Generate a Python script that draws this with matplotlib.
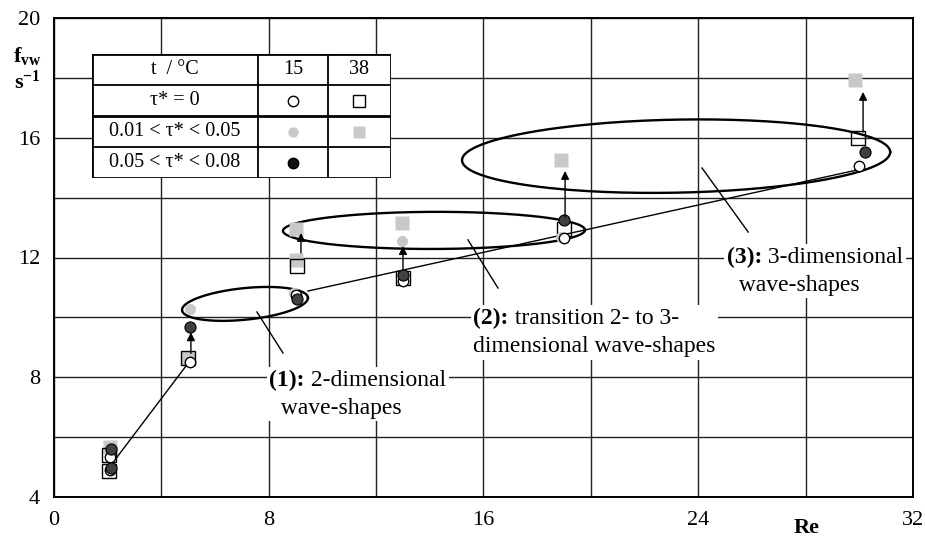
import numpy as np
import matplotlib.pyplot as plt
from matplotlib.patches import Rectangle
from matplotlib.offsetbox import TextArea, HPacker, VPacker, AnnotationBbox

plt.rcParams['font.family'] = ['Liberation Serif', 'DejaVu Serif']
plt.rcParams['mathtext.fontset'] = 'custom'
plt.rcParams['mathtext.rm'] = 'Liberation Serif'
plt.rcParams['mathtext.bf'] = 'Liberation Serif:bold'
plt.rcParams['mathtext.it'] = 'Liberation Serif:italic'

# --- data (Re, f_vw in 1/s) ---
# 15 C, tau* = 0 (open circles)
re_c0 = [2.1, 2.1, 5.05, 9.0, 13.0, 19.0, 30.0]
f_c0 = [4.9, 5.35, 8.5, 10.75, 11.22, 12.65, 15.05]
# 38 C, tau* = 0 (open squares)
re_s0 = [2.05, 2.05, 5.0, 9.05, 13.0, 19.0, 29.95]
f_s0 = [4.88, 5.4, 8.65, 11.72, 11.32, 12.95, 16.0]
# 15 C, 0.01 < tau* < 0.05 (light grey circles)
re_c1 = [5.05, 8.95, 12.95, 18.9]
f_c1 = [10.28, 10.8, 12.55, 12.68]
# 38 C, 0.01 < tau* < 0.05 (light grey squares)
re_s1 = [2.1, 5.0, 9.0, 9.0, 12.95, 18.9, 29.85]
f_s1 = [5.68, 8.65, 11.92, 12.95, 13.15, 15.25, 17.93]
# 15 C, 0.05 < tau* < 0.08 (dark circles)
re_c2 = [2.12, 2.12, 5.05, 9.05, 13.0, 19.0, 30.2]
f_c2 = [4.97, 5.6, 9.68, 10.6, 11.42, 13.25, 15.52]

# arrows (Re, f from, f to)
arrow_re = [5.1, 9.2, 13.0, 19.04, 30.14]
arrow_f0 = [8.8, 12.15, 11.62, 13.35, 16.19]
arrow_f1 = [9.5, 12.82, 12.38, 14.89, 17.53]

# connecting / trend lines
line1_re = [2.27, 5.03]
line1_f = [5.24, 8.51]
line2_re = [9.46, 29.9]
line2_f = [10.88, 14.92]

# ellipses: left end, right end, vertical half height
ell_left = [(4.77, 10.25), (8.53, 12.89), (15.2, 15.25)]
ell_right = [(9.46, 10.65), (19.78, 12.92), (31.15, 15.52)]
ell_b = [0.53, 0.62, 1.22]

# leader lines and labels
lead_re = [(7.56, 8.53), (15.42, 16.54), (24.14, 25.86)]
lead_f = [(10.18, 8.81), (12.59, 10.98), (14.99, 12.85)]
label_pos = [(8.02, 7.44), (15.62, 9.5), (25.07, 11.55)]
label_bold = ['(1):', '(2):', '(3):']
label_rest = [' 2-dimensional', ' transition 2- to 3-', ' 3-dimensional']
label_line2 = ['  wave-shapes', 'dimensional wave-shapes', '  wave-shapes']

fig = plt.figure(figsize=(9.25, 5.37), dpi=100)
ax = fig.add_axes([54 / 925, 40 / 537, 859 / 925, 479 / 537])
ax.set_xlim(0, 32)
ax.set_ylim(4, 20)
ax.set_xticks(np.arange(0, 33, 4))
ax.set_xticklabels([str(v) if v % 8 == 0 else '' for v in range(0, 33, 4)])
ax.set_yticks(np.arange(4, 21, 2))
ax.set_yticklabels([str(v) if v % 4 == 0 else '' for v in range(4, 21, 2)])
ax.tick_params(length=0, labelsize=16, pad=10)
ax.grid(True, color='#222222', lw=1.0)
ax.set_axisbelow(True)
for s in ax.spines.values():
    s.set_linewidth(1.4)

ax.plot(line1_re, line1_f, color='black', lw=1.0, zorder=2)
ax.plot(line2_re, line2_f, color='black', lw=1.0, zorder=2)

t = np.linspace(0, 2 * np.pi, 300)
for (x0, y0), (x1, y1), b in zip(ell_left, ell_right, ell_b):
    cx, cy = (x0 + x1) / 2, (y0 + y1) / 2
    ex = cx + np.cos(t) * (x1 - cx)
    ey = cy + np.cos(t) * (y1 - cy) + np.sin(t) * b
    ax.plot(ex, ey, color='black', lw=1.7, zorder=2)

for xs, ys in zip(lead_re, lead_f):
    ax.plot(xs, ys, color='black', lw=1.0, zorder=2)

ax.plot(re_s1, f_s1, 's', ms=9.5, color='#c8c8c8', mec='none', zorder=3)
ax.plot(re_s0, f_s0, 's', ms=10, mfc='none', mec='black', mew=1.0, zorder=4)
ax.plot(re_c1, f_c1, 'o', ms=8, color='#c8c8c8', mec='none', zorder=4)
ax.plot(re_c0, f_c0, 'o', ms=7.5, mfc='white', mec='black', mew=1.0, zorder=5)
ax.plot(re_c2, f_c2, 'o', ms=8, mfc='#404040', mec='black', mew=0.8, zorder=6)

for x, a, b in zip(arrow_re, arrow_f0, arrow_f1):
    ax.annotate('', xy=(x, b), xytext=(x, a),
                arrowprops=dict(arrowstyle='-|>', color='black', lw=1.0,
                                mutation_scale=12, shrinkA=0, shrinkB=0),
                zorder=6)

for (x, y), lb, lr, l2 in zip(label_pos, label_bold, label_rest, label_line2):
    first = HPacker(children=[TextArea(lb, textprops=dict(fontsize=17, fontweight='bold')),
                              TextArea(lr, textprops=dict(fontsize=17))],
                    align='baseline', pad=0, sep=0)
    box = VPacker(children=[first, TextArea(l2, textprops=dict(fontsize=17))],
                  align='left', pad=0, sep=5)
    ab = AnnotationBbox(box, (x, y), xycoords='data', box_alignment=(0, 0.5),
                        frameon=True, pad=0.2,
                        bboxprops=dict(facecolor='white', edgecolor='none'))
    ab.set_zorder(5)
    ax.add_artist(ab)

fig.text(807 / 925, 1 - 528 / 537, 'Re', fontsize=16, fontweight='bold',
         ha='center', va='center')
fig.text(27 / 925, 1 - 56 / 537, r'$\mathbf{f_{vw}}$', fontsize=16,
         ha='center', va='center')
fig.text(27 / 925, 1 - 82 / 537, r'$\mathbf{s^{-1}}$', fontsize=16,
         ha='center', va='center')

# legend table
tab = fig.add_axes([92 / 925, (537 - 178) / 537, 299 / 925, 124 / 537])
tab.set_xlim(0, 299)
tab.set_ylim(124, 0)
tab.axis('off')
tab.add_patch(Rectangle((0, 0), 299, 124, facecolor='white', edgecolor='black', lw=2.0))
col_x = [166, 236]
row_y = [31, 62, 93]
for cx in col_x:
    tab.plot([cx, cx], [0, 124], color='black', lw=1.3)
for ry in row_y:
    tab.plot([0, 299], [ry, ry], color='black', lw=2.0 if ry == 62 else 1.3)

row_txt = ['t  / °C', 'τ* = 0', '0.01 < τ* < 0.05', '0.05 < τ* < 0.08']
for i, txt in enumerate(row_txt):
    tab.text(83, 15.5 + 31 * i, txt, fontsize=14.5, ha='center', va='center')
tab.text(201, 15.5, '15', fontsize=14.5, ha='center', va='center')
tab.text(267.5, 15.5, '38', fontsize=14.5, ha='center', va='center')
tab.plot(201, 46.5, 'o', ms=7.5, mfc='white', mec='black', mew=1.0)
tab.plot(267.5, 46.5, 's', ms=9, mfc='white', mec='black', mew=1.0)
tab.plot(201, 77.5, 'o', ms=7.5, color='#c8c8c8', mec='none')
tab.plot(267.5, 77.5, 's', ms=9, color='#c8c8c8', mec='none')
tab.plot(201, 108.5, 'o', ms=7.5, mfc='#111111', mec='black')

fig.savefig('out.png', dpi=100)
